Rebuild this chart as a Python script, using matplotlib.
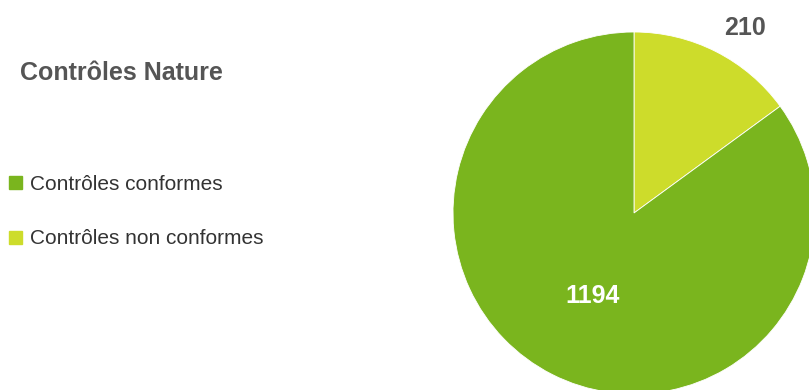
import numpy as np
import matplotlib.pyplot as plt

plt.rcParams['font.family'] = ['Liberation Sans', 'DejaVu Sans']

labels = ['Contrôles conformes', 'Contrôles non conformes']
values = [1194, 210]
colors = ['#7ab51e', '#cddc2b']

fig = plt.figure(figsize=(8.09, 3.9), dpi=100)
W, H = 809, 390
cx, cy, r = 634, 213, 181
ax = fig.add_axes([(cx - r) / W, (H - cy - r) / H, 2 * r / W, 2 * r / H])

# small slice first, clockwise from the top
wedges, _ = ax.pie(values[::-1], colors=colors[::-1], startangle=90, counterclock=False,
                   wedgeprops=dict(edgecolor='white', linewidth=0.6))
ax.set_xlim(-1, 1)
ax.set_ylim(-1, 1)
ax.set_aspect('equal')
ax.axis('off')

for w, v in zip(wedges, values[::-1]):
    mid = np.deg2rad((w.theta1 + w.theta2) / 2)
    if v == 1194:
        ax.text(0.5 * np.cos(mid), 0.5 * np.sin(mid), str(v), color='white',
                fontsize=18, fontweight='bold', ha='center', va='center_baseline')
    else:
        ax.text(1.1 * np.cos(mid), 1.1 * np.sin(mid), str(v), color='#555555',
                fontsize=18, fontweight='bold', ha='left', va='baseline')

fig.text(20 / W, 1 - 70 / H, 'Contrôles Nature', fontsize=18, fontweight='bold',
         color='#555555', ha='left', va='center_baseline')

for i, (lab, c) in enumerate(zip(labels, colors)):
    y = 182 + i * 55
    fig.patches.append(plt.Rectangle((9 / W, 1 - (y + 7) / H), 13 / W, 13 / H,
                                     color=c, transform=fig.transFigure))
    fig.text(30 / W, 1 - y / H, lab, fontsize=15, color='#333333', ha='left',
             va='center_baseline')

fig.savefig('out.png', dpi=100)
